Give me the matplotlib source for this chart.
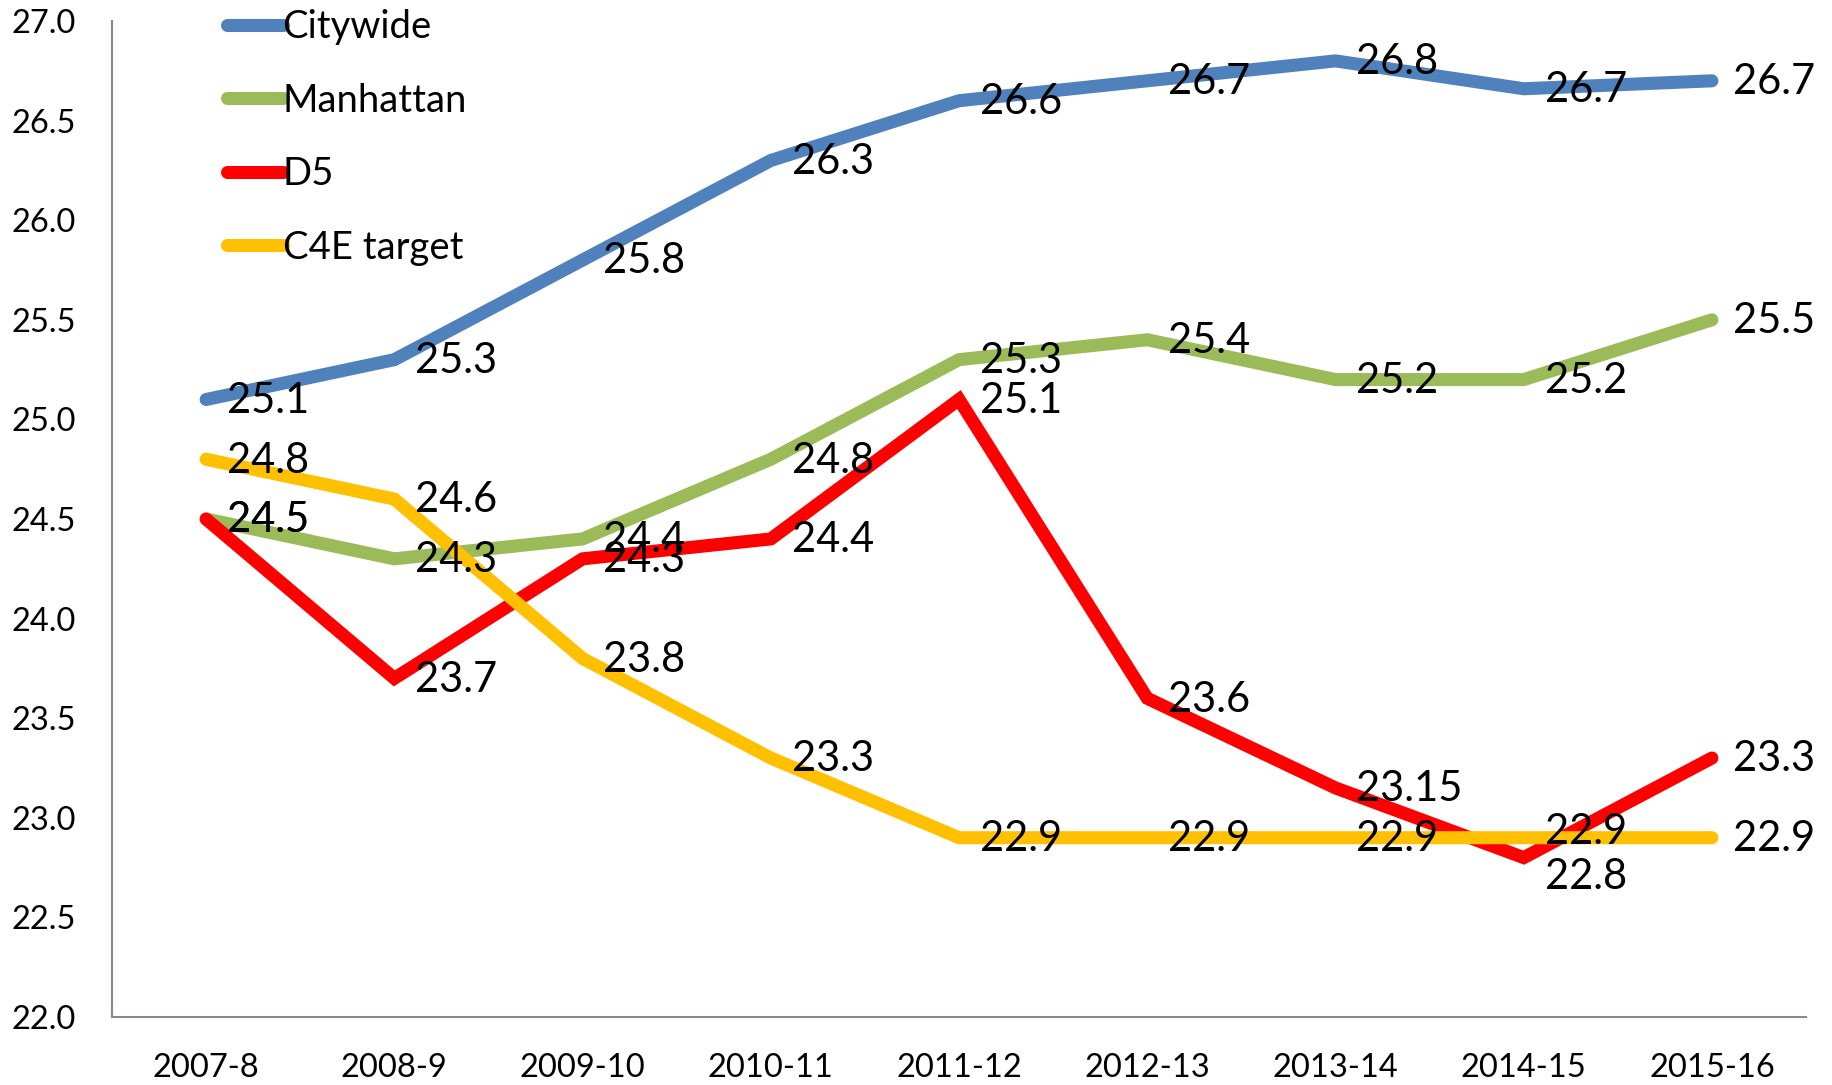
import matplotlib
matplotlib.use("Agg")
import matplotlib.pyplot as plt

years = ["2007-8", "2008-9", "2009-10", "2010-11", "2011-12", "2012-13", "2013-14", "2014-15", "2015-16"]
citywide = [25.1, 25.3, 25.8, 26.3, 26.6, 26.7, 26.8, 26.66, 26.7]
citywide_labels = ["25.1", "25.3", "25.8", "26.3", "26.6", "26.7", "26.8", "26.7", "26.7"]
manhattan = [24.5, 24.3, 24.4, 24.8, 25.3, 25.4, 25.2, 25.2, 25.5]
manhattan_labels = ["24.5", "24.3", "24.4", "24.8", "25.3", "25.4", "25.2", "25.2", "25.5"]
d5 = [24.5, 23.7, 24.3, 24.4, 25.1, 23.6, 23.15, 22.8, 23.3]
d5_labels = ["24.5", "23.7", "24.3", "24.4", "25.1", "23.6", "23.15", "22.8", "23.3"]
c4e = [24.8, 24.6, 23.8, 23.3, 22.9, 22.9, 22.9, 22.9, 22.9]
c4e_labels = ["24.8", "24.6", "23.8", "23.3", "22.9", "22.9", "22.9", "22.9", "22.9"]
yticks = [22.0, 22.5, 23.0, 23.5, 24.0, 24.5, 25.0, 25.5, 26.0, 26.5, 27.0]

# small vertical nudges (points) for crowded labels, as in the original
citywide_dy = [0] * 9
manhattan_dy = [0] * 9
d5_dy = [0, 0, 0, 0, 0, 0, 0, -13, 0]
c4e_dy = [0, 0, 0, 0, 0, 0, 0, 5, 0]

plt.rcParams['font.family'] = ['Lato', 'DejaVu Sans']

fig = plt.figure(figsize=(18.33, 10.85), dpi=100)
ax = fig.add_axes([0.0611, 0.0627, 0.9853 - 0.0611, 0.9806 - 0.0627])

x = list(range(len(years)))
series = [
    ("Citywide", citywide, citywide_labels, citywide_dy, "#4F81BD"),
    ("Manhattan", manhattan, manhattan_labels, manhattan_dy, "#9BBB59"),
    ("D5", d5, d5_labels, d5_dy, "#FF0000"),
    ("C4E target", c4e, c4e_labels, c4e_dy, "#FFC000"),
]
for i, (name, vals, labs, dys, col) in enumerate(series):
    ax.plot(x, vals, color=col, lw=9.4, solid_capstyle='round', solid_joinstyle='miter',
            label=name, zorder=2 + i)
    for xi, v, lab, dy in zip(x, vals, labs, dys):
        ax.annotate(lab, (xi, v), xytext=(15, dy - 1), textcoords='offset points',
                    ha='left', va='center', fontsize=30, color='black', zorder=10)

ax.set_xlim(-0.5, 8.5)
ax.set_ylim(22, 27)
ax.set_xticks(x)
ax.set_xticklabels(years)
ax.set_yticks(yticks)
ax.set_yticklabels([f"{t:.1f}" for t in yticks])
ax.tick_params(axis='both', length=0, labelsize=23.5)
ax.tick_params(axis='x', pad=26)
ax.tick_params(axis='y', pad=26)
for s in ['top', 'right']:
    ax.spines[s].set_visible(False)
for s in ['left', 'bottom']:
    ax.spines[s].set_color('#898989')
    ax.spines[s].set_linewidth(1.5)

leg = ax.legend(loc='upper left', bbox_to_anchor=(0.059, 1.027), frameon=False,
                fontsize=27.5, handlelength=1.45, handletextpad=0.0, labelspacing=0.98,
                borderaxespad=0)
for h in leg.get_lines():
    h.set_solid_capstyle('round')

fig.savefig("out.png", dpi=100)
